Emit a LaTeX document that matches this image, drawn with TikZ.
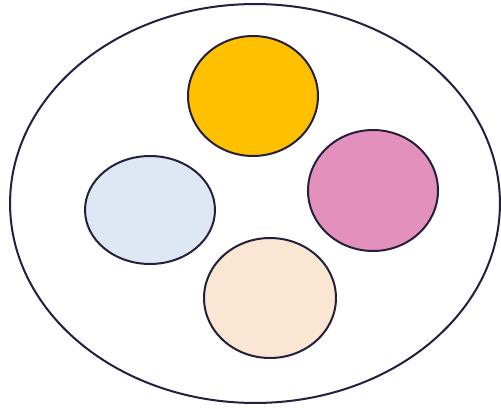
\documentclass[tikz,border=0pt]{standalone}
\usetikzlibrary{shapes.geometric}
\definecolor{outline}{HTML}{231F3D}
\definecolor{gold}{HTML}{FFC000}
\definecolor{rose}{HTML}{E490BC}
\definecolor{skyblue}{HTML}{DEE8F4}
\definecolor{sand}{HTML}{FAE6D2}
\tikzset{
  blob/.style={ellipse,draw=outline,line width=0.4mm,inner sep=0pt,
    minimum width=2.6cm,minimum height=2.4cm}
}
\begin{document}
\begin{tikzpicture}[x=0.02cm,y=-0.02cm]
        \useasboundingbox (0,0) rectangle (501,409);
        % outer set
        \node [ellipse,draw=outline,line width=0.4mm,inner sep=0pt,
          minimum width=9.8cm,minimum height=7.98cm] (outer) at (255,203.5) {};
        % inner sets
        \node [blob,fill=gold] (top) at (253,96) {};
        \node [blob,fill=rose,minimum height=2.42cm] (right) at (373,190.5) {};
        \node [blob,fill=skyblue,minimum height=2.16cm] (left) at (150,210) {};
        \node [blob,fill=sand,minimum width=2.64cm] (bottom) at (270,298) {};
\end{tikzpicture}
\end{document}
